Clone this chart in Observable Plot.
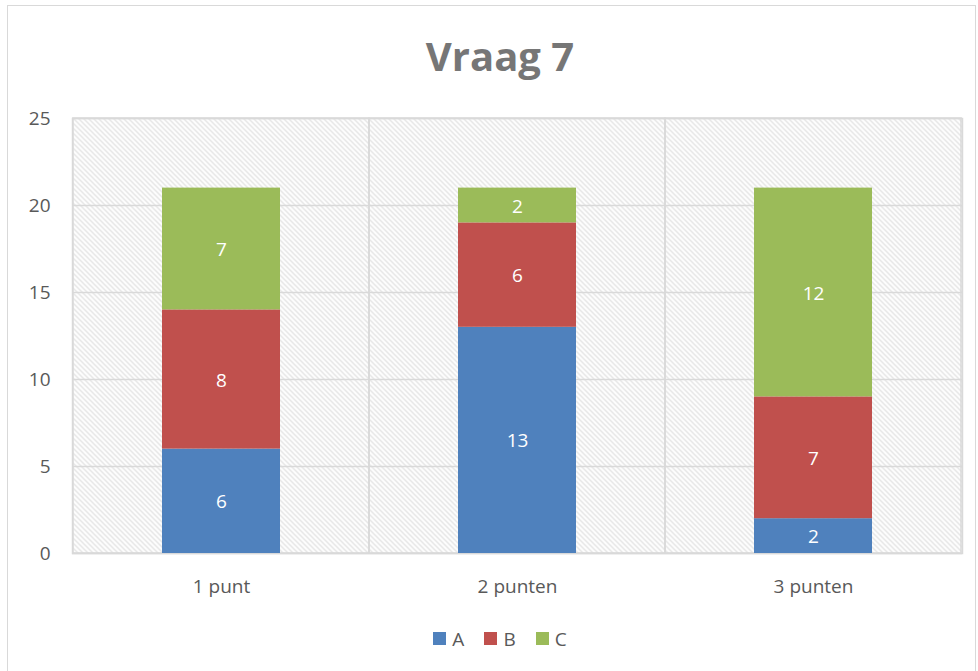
<!DOCTYPE html>
<html><head><meta charset="utf-8">
<script src="https://cdn.jsdelivr.net/npm/d3@7"></script>
<script src="https://cdn.jsdelivr.net/npm/@observablehq/plot@0.6"></script>
<style>
body{margin:0;background:#fff;font-family:"Open Sans","Liberation Sans",sans-serif;}
#frame{position:absolute;left:7px;top:5px;width:969px;height:670px;border:1.5px solid #d9d9d9;box-sizing:border-box;}
#wrap{position:absolute;left:0;top:0;width:978px;}
#title{height:100px;line-height:112px;text-align:center;font-size:40px;font-weight:bold;color:#767676;padding-left:22px;}
#legend{height:71px;display:flex;justify-content:center;align-items:center;gap:20px;color:#595959;font-size:19px;padding-left:22px;padding-top:6px;box-sizing:border-box}
.li{display:flex;align-items:center;gap:6px}
.sw{width:13px;height:13px;display:inline-block}
</style></head>
<body>
<div id="frame"></div>
<div id="wrap">
<div id="title">Vraag 7</div>
<div id="chart"></div>
<div id="legend"></div>
</div>
<script>
const categories = ["1 punt", "2 punten", "3 punten"];
const series = ["A", "B", "C"];
const valuesA = [6, 13, 2];
const valuesB = [8, 6, 7];
const valuesC = [7, 2, 12];
const colors = ["#4f81bd", "#c0504d", "#9bbb59"];
const yTicks = [0, 5, 10, 15, 20, 25];

const allVals = [valuesA, valuesB, valuesC];
const data = [];
series.forEach((s, si) => categories.forEach((c, ci) => data.push({cat: c, series: s, value: allVals[si][ci]})));

const chart = Plot.plot({
  width: 978, height: 500,
  marginLeft: 72, marginRight: 16, marginTop: 18, marginBottom: 47,
  style: {fontFamily: "'Open Sans','Liberation Sans',sans-serif", fontSize: "19px", color: "#595959", background: "transparent"},
  x: {domain: categories, padding: 0, label: null},
  y: {domain: [0, 25], ticks: yTicks, label: null},
  color: {domain: series, range: colors},
  marks: [
    Plot.frame({fill: "url(#hatch)", stroke: "none"}),
    Plot.gridY(yTicks, {stroke: "#d9d9d9", strokeOpacity: 1, strokeWidth: 1.5}),
    Plot.barY(categories, {x: d => d, y: yTicks[yTicks.length - 1], fill: "none", stroke: "#d9d9d9", strokeWidth: 1.5}),
    Plot.frame({stroke: "#d9d9d9", strokeWidth: 1.5}),
    Plot.barY(data, Plot.stackY({x: "cat", y: "value", fill: "series", order: series, inset: 0, insetLeft: 89, insetRight: 89})),
    Plot.text(data, Plot.stackY({x: "cat", y: "value", z: "series", order: series, text: d => String(d.value), fill: "white", fontSize: 19, dy: 1})),
    Plot.axisY({ticks: yTicks, tickSize: 0, tickPadding: 22, fontSize: 19, fill: "#595959"}),
    Plot.axisX({tickSize: 0, tickPadding: 26, fontSize: 19, fill: "#595959"})
  ]
});

document.getElementById("chart").appendChild(chart);
const svg = d3.select(chart);
const defs = svg.insert("defs", ":first-child");
const pat = defs.append("pattern").attr("id", "hatch").attr("patternUnits", "userSpaceOnUse").attr("width", 5).attr("height", 5);
pat.append("rect").attr("width", 5).attr("height", 5).attr("fill", "#fff");
pat.append("path").attr("d", "M-1,-1 L6,6 M-1,4 L1,6 M4,-1 L6,1").attr("stroke", "#dcdcdc").attr("stroke-width", 1.2);

const leg = document.getElementById("legend");
series.forEach((s, i) => {
  const d = document.createElement("div"); d.className = "li";
  d.innerHTML = `<span class="sw" style="background:${colors[i]}"></span><span>${s}</span>`;
  leg.appendChild(d);
});
</script>
</body></html>
